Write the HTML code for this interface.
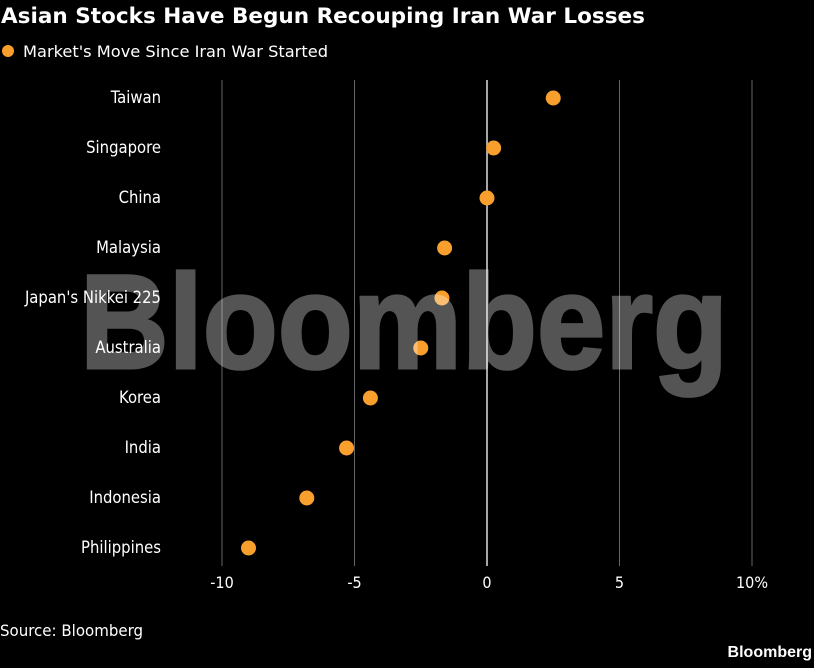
<!DOCTYPE html>
<html><head><meta charset="utf-8"><style>
body{margin:0;background:#000;width:814px;height:663px;overflow:hidden;font-family:"Liberation Sans",sans-serif}
</style></head><body>
<svg width="814" height="663" font-family="DejaVu Sans Condensed, DejaVu Sans, sans-serif">
<rect width="814" height="663" fill="#000"/>
<text x="1" y="23" fill="#fff" font-size="21" font-weight="bold" font-family="DejaVu Sans, sans-serif" textLength="644" lengthAdjust="spacingAndGlyphs">Asian Stocks Have Begun Recouping Iran War Losses</text>
<circle cx="8" cy="51" r="6" fill="#f99f2e"/>
<text x="23" y="57" fill="#fff" font-size="16" textLength="305" lengthAdjust="spacingAndGlyphs">Market's Move Since Iran War Started</text>
<g id="grid"></g><g id="labels"></g><g id="dots"></g>
<text x="0" y="636" fill="#fff" font-size="16" textLength="143" lengthAdjust="spacingAndGlyphs">Source: Bloomberg</text>
<text x="812" y="657" fill="#fff" font-size="16" font-weight="bold" font-family="Liberation Sans, sans-serif" text-anchor="end">Bloomberg</text>
<g opacity="0.33">
<text x="80" y="368" fill="#fff" stroke="#fff" stroke-width="3" font-size="134" font-weight="bold" font-family="Liberation Sans, sans-serif" textLength="648" lengthAdjust="spacingAndGlyphs">Bloomberg</text>
</g>
</svg>
<script>
const categories=["Taiwan","Singapore","China","Malaysia","Japan's Nikkei 225","Australia","Korea","India","Indonesia","Philippines"];
const values=[2.5,0.25,0.0,-1.6,-1.7,-2.5,-4.4,-5.3,-6.8,-9.0];
const ticks=[-10,-5,0,5,10];
const tickLabels=["-10","-5","0","5","10%"];
const NS="http://www.w3.org/2000/svg";
const x=v=>487+v*26.5;
const y=i=>98+i*50;
function mk(t,a,p){const e=document.createElementNS(NS,t);for(const k in a)e.setAttribute(k,a[k]);document.getElementById(p).appendChild(e);return e;}
ticks.forEach((t,i)=>{
 const l=mk("line",{x1:x(t),x2:x(t),y1:80,y2:566,stroke:t===0?"#ddd":"#666","stroke-width":t===0?1.5:1},"grid");
 
 
 const tx=mk("text",{x:x(t),y:588,fill:"#fff","font-size":16,"text-anchor":"middle"},"grid");
 tx.textContent=tickLabels[i];
 
 
});
categories.forEach((c,i)=>{
 const tx=mk("text",{x:161,y:y(i)+5,fill:"#fff","font-size":16.5,"text-anchor":"end"},"labels");
 tx.textContent=c;
 
 
 const d=mk("circle",{cx:x(values[i]),cy:y(i),r:7.5,fill:"#f99f2e"},"dots");
 
 
});
</script>
</body></html>
